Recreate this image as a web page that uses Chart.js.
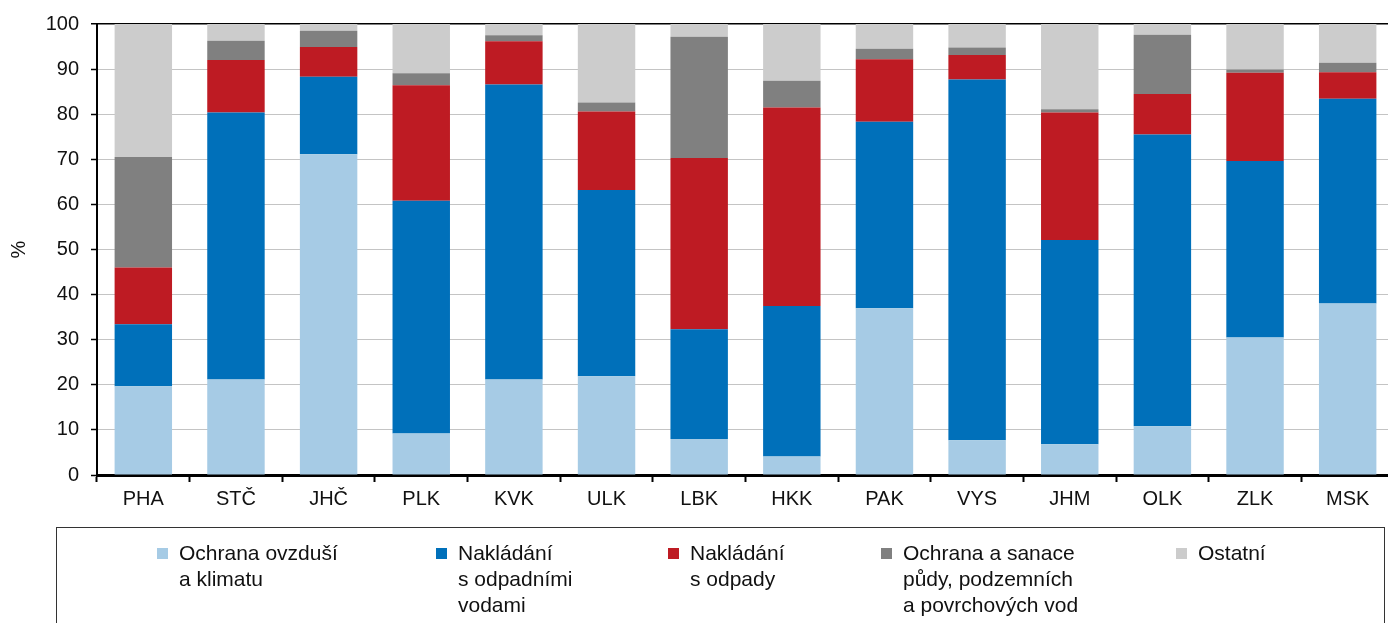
<!DOCTYPE html>
<html>
<head>
<meta charset="utf-8">
<script src="https://cdn.jsdelivr.net/npm/chart.js@4/dist/chart.umd.min.js"></script>
<style>
  html, body { margin: 0; padding: 0; background: #fff; overflow: hidden; width: 1388px; height: 623px; }
  #wrap { position: absolute; left: 0; top: 0; width: 1394px; height: 623px; }
  #legend { position: absolute; left: 56px; top: 527px; width: 1329px; height: 140px; box-sizing: border-box;
            border: 1.5px solid #333; font-family: "Liberation Sans", Arial, sans-serif; font-size: 21px; color: #111; }
  .item { position: absolute; top: 12px; line-height: 26px; }
  .mark { position: absolute; width: 11px; height: 11px; left: 0; top: 8px; }
  .txt { position: absolute; left: 22px; top: 0; white-space: nowrap; }
</style>
</head>
<body>
<div id="wrap"><canvas id="c" width="1394" height="623"></canvas></div>
<div id="legend"></div>
<script>
const categories = ["PHA", "STČ", "JHČ", "PLK", "KVK", "ULK", "LBK", "HKK", "PAK", "VYS", "JHM", "OLK", "ZLK", "MSK"];

const seriesLabels = [
  ["Ochrana ovzduší", "a klimatu"],
  ["Nakládání", "s odpadními", "vodami"],
  ["Nakládání", "s odpady"],
  ["Ochrana a sanace", "půdy, podzemních", "a povrchových vod"],
  ["Ostatní"]
];

const ochranaOvzdusi   = [19.7, 21.2, 71.1,  9.2, 21.2, 21.9,  8.0,  4.1, 37.0,  7.7,  6.8, 10.8, 30.5, 38.0];
const odpadniVody      = [13.7, 59.2, 17.2, 51.6, 65.4, 41.3, 24.3, 33.4, 41.3, 80.0, 45.3, 64.7, 39.1, 45.4];
const odpady           = [12.6, 11.6,  6.6, 25.6,  9.6, 17.4, 38.0, 44.0, 13.9,  5.4, 28.3,  9.0, 19.6,  5.9];
const pudaVody         = [24.5,  4.3,  3.6,  2.7,  1.3,  2.0, 26.9,  5.9,  2.3,  1.7,  0.7, 13.1,  0.7,  2.1];
const ostatni          = [29.5,  3.7,  1.5, 10.9,  2.5, 17.4,  2.8, 12.6,  5.5,  5.2, 18.9,  2.4, 10.1,  8.6];

const yTicks = [0, 10, 20, 30, 40, 50, 60, 70, 80, 90, 100];

const seriesData = [ochranaOvzdusi, odpadniVody, odpady, pudaVody, ostatni];
const seriesColors = ["#a6cbe5", "#0070ba", "#be1b23", "#808080", "#cccccc"];
const legendX = [100, 379, 611, 824, 1119];

const FONT = "'Liberation Sans', Arial, sans-serif";

const datasets = seriesData.map((d, i) => ({
  label: seriesLabels[i].join(" "),
  data: d,
  backgroundColor: seriesColors[i],
  borderWidth: 0,
  barPercentage: 0.62,
  categoryPercentage: 1.0
}));

const chart = new Chart(document.getElementById("c"), {
  type: "bar",
  data: { labels: categories, datasets },
  options: {
    responsive: false,
    animation: false,
    devicePixelRatio: 1,
    layout: { padding: { top: 22, bottom: 96, left: 0, right: 0 } },
    plugins: { legend: { display: false }, tooltip: { enabled: false } },
    scales: {
      x: {
        stacked: true,
        z: 1,
        afterFit: s => { s.height = 52; },
        border: { display: true, color: "#000", width: 3 },
        grid: { display: true, offset: true, drawOnChartArea: false, drawTicks: true, tickLength: 7, tickColor: "#000", tickWidth: 2 },
        ticks: { color: "#111", font: { family: FONT, size: 20 }, padding: 5, maxRotation: 0, autoSkip: false }
      },
      y: {
        stacked: true,
        min: 0, max: 100,
        afterFit: s => { s.width = 97; },
        afterBuildTicks: s => { s.ticks = yTicks.map(v => ({ value: v })); },
        border: { display: true, color: "#000", width: 2 },
        grid: {
          color: c => (c.tick && c.tick.value === 100) ? "#000" : "#c4c4c4",
          lineWidth: c => (c.tick && c.tick.value === 100) ? 1.5 : 1,
          tickLength: 6, tickColor: "#000", tickWidth: 1.5
        },
        ticks: { color: "#111", font: { family: FONT, size: 20 }, padding: 12 },
        title: { display: true, text: "%", color: "#111", font: { family: FONT, size: 20 }, padding: { top: 7, bottom: 0 } }
      }
    }
  }
});

// HTML legend built from the chart's datasets
const legend = document.getElementById("legend");
chart.data.datasets.forEach((ds, i) => {
  const item = document.createElement("div");
  item.className = "item";
  item.style.left = legendX[i] + "px";
  const m = document.createElement("div");
  m.className = "mark";
  m.style.background = ds.backgroundColor;
  const t = document.createElement("div");
  t.className = "txt";
  t.innerHTML = seriesLabels[i].join("<br>");
  item.appendChild(m); item.appendChild(t);
  legend.appendChild(item);
});
</script>
</body>
</html>
